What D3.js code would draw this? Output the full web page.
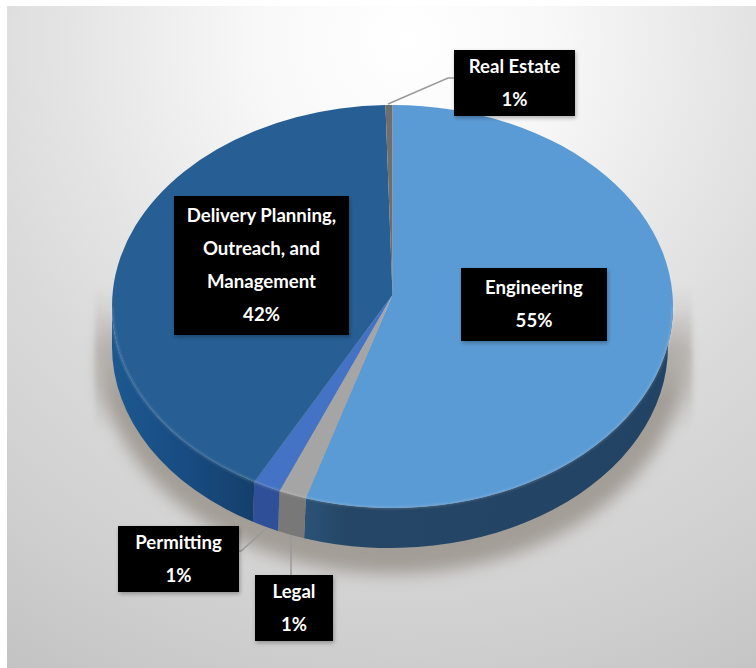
<!DOCTYPE html>
<html>
<head>
<meta charset="utf-8">
<script src="https://cdn.jsdelivr.net/npm/d3@7"></script>
<style>
  html, body { margin: 0; background: #fff; }
  svg { display: block; }
  .label { font-family: Lato, sans-serif; font-weight: 700; font-size: 18.6px; fill: #fff; text-anchor: middle; dominant-baseline: central; }
</style>
</head>
<body>
<svg id="chart" width="756" height="668"></svg>
<script>
// slice order runs clockwise from 12 o'clock
var categories = ['Engineering', 'Legal', 'Permitting', 'Delivery Planning, Outreach, and Management', 'Real Estate'];
var sliceValues = [55, 1.6, 1.6, 41.4, 0.4];
var percentLabels = ['55%', '1%', '1%', '42%', '1%'];

var topColours = ['#5b9bd5', '#a5a5a5', '#4472c4', '#275f94', '#6e6e6e'];
var sideColours = ['url(#sideEng)', '#787878', '#2f4f98', 'url(#sideDel)', '#555555'];

// wrapped text and box for each label, same order as categories
var labelLines = [
  ['Engineering'],
  ['Legal'],
  ['Permitting'],
  ['Delivery Planning,', 'Outreach, and', 'Management'],
  ['Real Estate']
];
var labelBoxes = [
  { x: 461, y: 268, w: 146, h: 73 },
  { x: 255, y: 575, w: 78, h: 66 },
  { x: 118, y: 526, w: 121, h: 66 },
  { x: 174, y: 196, w: 175, h: 139 },
  { x: 454, y: 50, w: 121, h: 66 }
];
// leader lines, only the small slices have one
var leaders = [
  null,
  { from: [291, 535], knee: [291, 560], to: [291, 575] },
  { from: [267, 528], knee: [241, 551], to: [239, 551] },
  null,
  { from: [388, 104], knee: [448, 78], to: [454, 78] }
];

// top face, then the slightly narrower lower edge of the wall
var cx = 392.5, cy = 306.5, rx = 280.5, ry = 201.5;
var lowX = 390, lowY = 346.5, lowRx = 278, lowRy = 201.5;
var apexY = 295;

var svg = d3.select('#chart');
var defs = svg.append('defs');

var bg = defs.append('radialGradient').attr('id', 'bg')
  .attr('gradientUnits', 'userSpaceOnUse')
  .attr('cx', 405).attr('cy', 40).attr('r', 740);
[[0, '#ffffff'], [0.2, '#f8f8f8'], [0.47, '#e3e3e3'], [0.6, '#dadada'], [0.82, '#cfcfcf'], [1, '#c3c3c3']]
  .forEach(s => bg.append('stop').attr('offset', s[0]).attr('stop-color', s[1]));

var sideEng = defs.append('linearGradient').attr('id', 'sideEng')
  .attr('gradientUnits', 'userSpaceOnUse').attr('x1', 303).attr('x2', 673).attr('y1', 0).attr('y2', 0);
[[0, '#2b5377'], [0.12, '#254666'], [1, '#224364']]
  .forEach(s => sideEng.append('stop').attr('offset', s[0]).attr('stop-color', s[1]));

var sideDel = defs.append('linearGradient').attr('id', 'sideDel')
  .attr('gradientUnits', 'userSpaceOnUse').attr('x1', 112).attr('x2', 255).attr('y1', 0).attr('y2', 0);
[[0, '#1d5890'], [0.5, '#184c82'], [1, '#153f6b']]
  .forEach(s => sideDel.append('stop').attr('offset', s[0]).attr('stop-color', s[1]));

var fadeTop = defs.append('linearGradient').attr('id', 'fadeTop')
  .attr('gradientUnits', 'userSpaceOnUse').attr('x1', 0).attr('x2', 0).attr('y1', 310).attr('y2', 400);
fadeTop.append('stop').attr('offset', 0).attr('stop-color', '#000');
fadeTop.append('stop').attr('offset', 1).attr('stop-color', '#fff');
defs.append('mask').attr('id', 'shadowMask').attr('maskUnits', 'userSpaceOnUse')
  .attr('x', 0).attr('y', 0).attr('width', 756).attr('height', 668)
  .append('rect').attr('width', 756).attr('height', 668).attr('fill', 'url(#fadeTop)');

var band = defs.append('linearGradient').attr('id', 'shadowBand')
  .attr('gradientUnits', 'userSpaceOnUse').attr('x1', 0).attr('x2', 0).attr('y1', 285).attr('y2', 432);
[[0, 0], [0.45, 0.55], [0.7, 0.4], [1, 0]]
  .forEach(s => band.append('stop').attr('offset', s[0]).attr('stop-color', '#aaa5a0').attr('stop-opacity', s[1]));

defs.append('filter').attr('id', 'blurShadow')
  .attr('x', '-20%').attr('y', '-20%').attr('width', '140%').attr('height', '140%')
  .append('feGaussianBlur').attr('stdDeviation', 8);
defs.append('filter').attr('id', 'blurBand')
  .attr('x', '-5%').attr('y', '-5%').attr('width', '110%').attr('height', '110%')
  .append('feGaussianBlur').attr('stdDeviation', 2.5);
defs.append('filter').attr('id', 'blurRim')
  .append('feGaussianBlur').attr('stdDeviation', 0.8);
defs.append('filter').attr('id', 'boxShadow')
  .attr('x', '-10%').attr('y', '-10%').attr('width', '120%').attr('height', '130%')
  .append('feDropShadow').attr('dx', 1).attr('dy', 2).attr('stdDeviation', 2)
  .attr('flood-color', '#000').attr('flood-opacity', 0.3);

// page panel
svg.append('rect').attr('x', 7).attr('y', 6).attr('width', 749).attr('height', 662).attr('fill', 'url(#bg)');

// soft shadow under the pie, plus the cut off band at both sides
svg.append('rect')
  .attr('x', 95).attr('y', 285).attr('width', 597).attr('height', 147)
  .attr('fill', 'url(#shadowBand)')
  .attr('filter', 'url(#blurBand)');
svg.append('g').attr('mask', 'url(#shadowMask)')
  .append('ellipse')
  .attr('cx', cx).attr('cy', 350).attr('rx', 294).attr('ry', 224)
  .attr('fill', '#a39d97')
  .attr('filter', 'url(#blurShadow)');

function px(a) { return cx + rx * Math.sin(a); }
function py(a) { return cy - ry * Math.cos(a); }
function lowPx(a) { return lowX + lowRx * Math.sin(a); }
function lowPy(a) { return lowY - lowRy * Math.cos(a); }

function arcTo(a, large) {
  return `A${rx},${ry} 0 ${large ? 1 : 0} 1 ${px(a)},${py(a)}`;
}

var pie = d3.pie().sort(null).startAngle(0).endAngle(2 * Math.PI);
var slices = pie(sliceValues);

// front wall only exists between 3 and 9 o'clock
var frontStart = Math.PI / 2, frontEnd = 3 * Math.PI / 2;

function sidePath(d) {
  var a0 = Math.max(d.startAngle, frontStart), a1 = Math.min(d.endAngle, frontEnd);
  if (a1 <= a0) return null;
  return `M${px(a0)},${py(a0)} ${arcTo(a1, false)} L${lowPx(a1)},${lowPy(a1)} ` +
    `A${lowRx},${lowRy} 0 0 0 ${lowPx(a0)},${lowPy(a0)} Z`;
}

function rimPath(d) {
  var a0 = Math.max(d.startAngle, frontStart), a1 = Math.min(d.endAngle, frontEnd);
  if (a1 <= a0) return null;
  return `M${px(a0)},${py(a0)} ${arcTo(a1, false)}`;
}

function topPath(d) {
  var large = d.endAngle - d.startAngle > Math.PI;
  return `M${cx},${apexY} L${px(d.startAngle)},${py(d.startAngle)} ${arcTo(d.endAngle, large)} Z`;
}

svg.append('g').selectAll('path')
  .data(slices.filter(d => sidePath(d)))
  .enter().append('path')
  .attr('d', sidePath)
  .attr('fill', d => sideColours[d.index]);

svg.append('g').selectAll('path')
  .data(slices)
  .enter().append('path')
  .attr('d', topPath)
  .attr('fill', d => topColours[d.index]);

// light bevel along the front edge
svg.append('g').selectAll('path')
  .data(slices.filter(d => rimPath(d)))
  .enter().append('path')
  .attr('d', rimPath)
  .attr('fill', 'none')
  .attr('stroke', '#fff')
  .attr('stroke-opacity', 0.18)
  .attr('stroke-width', 2)
  .attr('filter', 'url(#blurRim)');

// leader lines
var line = d3.line();
svg.append('g').selectAll('path')
  .data(leaders.filter(d => d))
  .enter().append('path')
  .attr('d', d => line([d.from, d.knee, d.to]))
  .attr('fill', 'none')
  .attr('stroke', '#9a9a9a')
  .attr('stroke-width', 1.5);

// data labels
var labels = svg.append('g').selectAll('g')
  .data(categories)
  .enter().append('g');

labels.append('rect')
  .attr('x', (d, i) => labelBoxes[i].x)
  .attr('y', (d, i) => labelBoxes[i].y)
  .attr('width', (d, i) => labelBoxes[i].w)
  .attr('height', (d, i) => labelBoxes[i].h)
  .attr('fill', '#000')
  .attr('filter', 'url(#boxShadow)');

labels.each(function (d, i) {
  var box = labelBoxes[i];
  var rows = labelLines[i].concat(percentLabels[i]);
  var top = box.y + box.h / 2 - 1 - (rows.length - 1) * 33 / 2;
  d3.select(this).selectAll('text')
    .data(rows)
    .enter().append('text')
    .attr('class', 'label')
    .attr('x', box.x + box.w / 2)
    .attr('y', (r, k) => top + k * 33)
    .text(r => r);
});
</script>
</body>
</html>
